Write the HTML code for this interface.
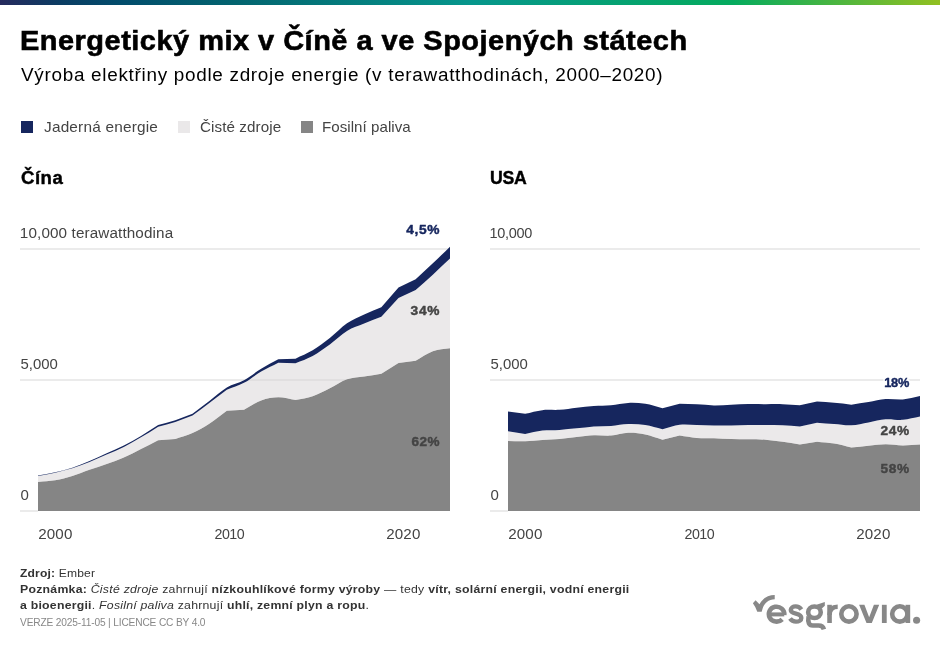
<!DOCTYPE html>
<html lang="cs">
<head>
<meta charset="utf-8">
<title>Energetický mix v Číně a ve Spojených státech</title>
<style>
  html, body { margin: 0; padding: 0; }
  body {
    width: 940px; height: 650px; overflow: hidden; position: relative;
    background: #ffffff; color: #000;
    font-family: "Liberation Sans", sans-serif;
    will-change: transform; /* forces greyscale text anti-aliasing */
  }
  .abs { position: absolute; white-space: nowrap; line-height: 1; margin: 0; transform-origin: 0 0; }
  .topbar {
    position: absolute; left: 0; top: 0; width: 940px; height: 5px;
    background: linear-gradient(90deg, #262a5d 0%, #0b3d63 6.5%, #024d6c 13%, #03646f 25%, #06968c 50%, #05ab5e 78%, #92c021 100%);
  }
  h1.title { top: 27.4px; font-size: 28px; font-weight: 700; color: #000; -webkit-text-stroke: 0.6px #000; }
  p.subtitle { top: 67.1px; font-size: 17.5px; font-weight: 400; color: #000; }
  .legend .sq { position: absolute; top: 121px; width: 12px; height: 12px; }
  .legend .lb { top: 119.3px; font-size: 15px; color: #444; }
  h2.ctitle { font-size: 18px; font-weight: 700; color: #000; top: 169.4px; -webkit-text-stroke: 0.4px #000; }
  .foot { font-size: 11.8px; color: #333; }
  .foot b { font-weight: 700; }
  .ver { font-size: 10.5px; color: #888; top: 617px; }
  svg.chart { position: absolute; left: 0; top: 0; }
  svg text { font-family: "Liberation Sans", sans-serif; }
  .ax { font-size: 15px; fill: #444; }
  .pct { font-size: 13px; font-weight: 700; stroke-linejoin: round; fill: #444; stroke: #444; stroke-width: 0.45px; }
  .pct.nv { fill: #16265e; stroke: #16265e; }
  .pct.halo { fill: #fff; stroke: #fff; stroke-width: 3.5px; }
</style>
</head>
<body>
  <div class="topbar"></div>

  <h1 class="abs title" style="left:20.37px;transform:scaleX(1.0340);letter-spacing:0.480px">Energetický mix v Číně a ve Spojených státech</h1>
  <p class="abs subtitle" style="left:20.60px;transform:scaleX(1.0805);letter-spacing:0.649px">Výroba elektřiny podle zdroje energie (v terawatthodinách, 2000–2020)</p>

  <div class="legend">
    <span class="sq" style="left:21px;background:#16265e"></span>
    <span class="abs lb" style="left:43.70px;transform:scaleX(1.0248);letter-spacing:0.192px">Jaderná energie</span>
    <span class="sq" style="left:178px;background:#eae8e9"></span>
    <span class="abs lb" style="left:200.10px;transform:scaleX(1.0123);letter-spacing:0.088px">Čisté zdroje</span>
    <span class="sq" style="left:301px;background:#858585"></span>
    <span class="abs lb" style="left:322.29px;transform:scaleX(1.0069);letter-spacing:0.046px">Fosilní paliva</span>
  </div>

  <h2 class="abs ctitle" style="left:20.50px;transform:scaleX(1.0339);letter-spacing:0.452px">Čína</h2>
  <h2 class="abs ctitle" style="left:489.82px;transform:scaleX(0.9822);letter-spacing:-0.329px">USA</h2>

  <svg class="chart" width="940" height="650" viewBox="0 0 940 650">
    <!-- China -->
    <g>
      <g fill="#ebebeb">
        <rect x="20" y="248" width="430" height="2"/>
        <rect x="20" y="379" width="430" height="2"/>
        <rect x="20" y="510" width="18" height="2"/>
      </g>
      <path fill="#858585" d="M38.00,481.92C43.72,481.39,49.44,481.33,55.17,480.35C60.89,479.36,66.61,477.77,72.33,476.02C78.06,474.28,83.78,471.85,89.50,469.87C95.22,467.88,100.94,466.15,106.67,464.10C112.39,462.05,118.11,460.06,123.83,457.55C129.56,455.05,135.28,451.95,141.00,449.06C146.72,446.18,152.44,443.19,158.17,440.26L175.33,438.95C181.06,436.99,186.78,435.61,192.50,433.06C198.22,430.50,203.94,427.33,209.67,423.62C215.39,419.92,221.11,415.10,226.83,410.84L244.00,409.71C249.72,406.62,255.44,402.51,261.17,400.44C266.89,398.37,272.61,397.36,278.33,397.29C284.06,397.23,289.78,399.13,295.50,400.04C301.22,398.77,306.94,398.17,312.67,396.22C318.39,394.27,324.11,391.17,329.83,388.36C335.56,385.55,341.28,381.31,347.00,379.35C352.72,377.38,358.44,377.53,364.17,376.59C369.89,375.66,375.61,374.67,381.33,373.71L398.50,363.00L415.67,360.74C421.39,357.57,427.11,353.32,432.83,351.23C438.56,349.15,444.28,349.24,450.00,348.25L450.00,511.00L38.00,511.00Z"/>
      <path fill="#d7d3d5" fill-opacity="0.5" d="M38.00,475.92C43.72,474.83,49.44,473.91,55.17,472.64C60.89,471.38,66.61,470.08,72.33,468.32C78.06,466.56,83.78,464.35,89.50,462.06C95.22,459.77,100.94,457.12,106.67,454.59C112.39,452.06,118.11,449.76,123.83,446.89C129.56,444.02,135.28,440.73,141.00,437.35C146.72,433.98,152.44,430.21,158.17,426.64C163.89,425.07,169.61,423.80,175.33,421.95C181.06,420.09,186.78,417.65,192.50,415.50C198.22,411.24,203.94,407.00,209.67,402.72C215.39,398.43,221.11,394.09,226.83,389.77C232.56,387.47,238.28,385.88,244.00,382.86C249.72,379.83,255.44,374.98,261.17,371.62C266.89,368.25,272.61,365.66,278.33,362.68L295.50,363.13C301.22,360.72,306.94,359.01,312.67,355.90C318.39,352.79,324.11,348.63,329.83,344.47C335.56,340.32,341.28,334.46,347.00,330.98C352.72,327.50,358.44,325.93,364.17,323.57C369.89,321.20,375.61,319.04,381.33,316.78L398.50,298.10L415.67,290.11C421.39,284.96,427.11,279.91,432.83,274.65C438.56,269.39,444.28,263.91,450.00,258.54L450.00,348.25C444.28,349.24,438.56,349.15,432.83,351.23C427.11,353.32,421.39,357.57,415.67,360.74L398.50,363.00L381.33,373.71C375.61,374.67,369.89,375.66,364.17,376.59C358.44,377.53,352.72,377.38,347.00,379.35C341.28,381.31,335.56,385.55,329.83,388.36C324.11,391.17,318.39,394.27,312.67,396.22C306.94,398.17,301.22,398.77,295.50,400.04C289.78,399.13,284.06,397.23,278.33,397.29C272.61,397.36,266.89,398.37,261.17,400.44C255.44,402.51,249.72,406.62,244.00,409.71L226.83,410.84C221.11,415.10,215.39,419.92,209.67,423.62C203.94,427.33,198.22,430.50,192.50,433.06C186.78,435.61,181.06,436.99,175.33,438.95L158.17,440.26C152.44,443.19,146.72,446.18,141.00,449.06C135.28,451.95,129.56,455.05,123.83,457.55C118.11,460.06,112.39,462.05,106.67,464.10C100.94,466.15,95.22,467.88,89.50,469.87C83.78,471.85,78.06,474.28,72.33,476.02C66.61,477.77,60.89,479.36,55.17,480.35C49.44,481.33,43.72,481.39,38.00,481.92Z"/>
      <path fill="#16265e" d="M38.00,475.47C43.72,474.38,49.44,473.50,55.17,472.20C60.89,470.90,66.61,469.54,72.33,467.67C78.06,465.79,83.78,463.33,89.50,460.93C95.22,458.53,100.94,455.85,106.67,453.28C112.39,450.71,118.11,448.40,123.83,445.50C129.56,442.60,135.28,439.33,141.00,435.91C146.72,432.50,152.44,428.64,158.17,425.01C163.89,423.40,169.61,422.06,175.33,420.16C181.06,418.27,186.78,415.83,192.50,413.67C198.22,409.37,203.94,405.13,209.67,400.78C215.39,396.42,221.11,390.93,226.83,387.52C232.56,384.11,238.28,383.45,244.00,380.31C249.72,377.17,255.44,372.20,261.17,368.68C266.89,365.16,272.61,362.36,278.33,359.20L295.50,358.65C301.22,355.87,306.94,353.76,312.67,350.32C318.39,346.87,324.11,342.49,329.83,337.98C335.56,333.46,341.28,327.18,347.00,323.25C352.72,319.33,358.44,317.10,364.17,314.42C369.89,311.74,375.61,309.60,381.33,307.19L398.50,287.41L415.67,279.16C421.39,273.86,427.11,268.66,432.83,263.25C438.56,257.85,444.28,252.23,450.00,246.72L450.00,258.54C444.28,263.91,438.56,269.39,432.83,274.65C427.11,279.91,421.39,284.96,415.67,290.11L398.50,298.10L381.33,316.78C375.61,319.04,369.89,321.20,364.17,323.57C358.44,325.93,352.72,327.50,347.00,330.98C341.28,334.46,335.56,340.32,329.83,344.47C324.11,348.63,318.39,352.79,312.67,355.90C306.94,359.01,301.22,360.72,295.50,363.13L278.33,362.68C272.61,365.66,266.89,368.25,261.17,371.62C255.44,374.98,249.72,379.83,244.00,382.86C238.28,385.88,232.56,387.47,226.83,389.77C221.11,394.09,215.39,398.43,209.67,402.72C203.94,407.00,198.22,411.24,192.50,415.50C186.78,417.65,181.06,420.09,175.33,421.95C169.61,423.80,163.89,425.07,158.17,426.64C152.44,430.21,146.72,433.98,141.00,437.35C135.28,440.73,129.56,444.02,123.83,446.89C118.11,449.76,112.39,452.06,106.67,454.59C100.94,457.12,95.22,459.77,89.50,462.06C83.78,464.35,78.06,466.56,72.33,468.32C66.61,470.08,60.89,471.38,55.17,472.64C49.44,473.91,43.72,474.83,38.00,475.92Z"/>
      <text class="ax" transform="translate(19.83,238) scale(1.0169,1)" letter-spacing="0.125" >10,000 terawatthodina</text>
      <text class="ax" transform="translate(20.60,369) scale(0.9960,1)" letter-spacing="-0.037" >5,000</text>
      <text class="ax" transform="translate(20.60,500) scale(1.0000,1)" letter-spacing="0.000" >0</text>
      <text class="ax" transform="translate(38.25,539) scale(1.0109,1)" letter-spacing="0.120" >2000</text>
      <text class="ax" transform="translate(214.50,539) scale(0.9499,1)" letter-spacing="-0.552" >2010</text>
      <text class="ax" transform="translate(386.30,539) scale(1.0101,1)" letter-spacing="0.112" >2020</text>
      <text class="pct halo" transform="translate(406.20,234.2) scale(1.0602,1)" letter-spacing="0.603" >4,5%</text><text class="pct nv" transform="translate(406.20,234.2) scale(1.0602,1)" letter-spacing="0.603" >4,5%</text>
      <text class="pct" transform="translate(410.50,315.2) scale(1.0559,1)" letter-spacing="0.739" >34%</text>
      <text class="pct" transform="translate(411.40,446.3) scale(1.0397,1)" letter-spacing="0.525" >62%</text>
    </g>
    <!-- USA -->
    <g>
      <g fill="#ebebeb">
        <rect x="490" y="248" width="430" height="2"/>
        <rect x="490" y="379" width="430" height="2"/>
        <rect x="490" y="510" width="18" height="2"/>
      </g>
      <path fill="#858585" d="M508.00,441.05C513.72,441.13,519.44,441.49,525.17,441.31C530.89,441.12,536.61,440.33,542.33,439.95C548.06,439.56,553.78,439.47,559.50,439.00C565.22,438.53,570.94,437.74,576.67,437.12C582.39,436.49,588.11,435.49,593.83,435.23C599.56,434.97,605.28,435.95,611.00,435.54C616.72,435.14,622.44,432.98,628.17,432.79C633.89,432.61,639.61,433.30,645.33,434.44C651.06,435.59,656.78,437.94,662.50,439.68L679.67,435.54C685.39,436.34,691.11,437.47,696.83,437.93C702.56,438.39,708.28,438.11,714.00,438.30C719.72,438.48,725.44,438.88,731.17,439.05C736.89,439.23,742.61,439.23,748.33,439.34C754.06,439.46,759.78,439.32,765.50,439.74C771.22,440.15,776.94,441.02,782.67,441.83C788.39,442.64,794.11,443.67,799.83,444.58L817.00,441.70C822.72,442.29,828.44,442.50,834.17,443.46C839.89,444.42,845.61,446.13,851.33,447.46C857.06,446.85,862.78,446.15,868.50,445.63C874.22,445.11,879.94,444.36,885.67,444.32C891.39,444.29,897.11,445.40,902.83,445.42C908.56,445.44,914.28,444.78,920.00,444.45L920.00,511.00L508.00,511.00Z"/>
      <path fill="#d7d3d5" fill-opacity="0.5" d="M508.00,431.14L525.17,433.89C530.89,432.78,536.61,431.23,542.33,430.57C548.06,429.90,553.78,430.26,559.50,429.88C565.22,429.51,570.94,428.89,576.67,428.31C582.39,427.74,588.11,426.83,593.83,426.43C599.56,426.02,605.28,426.30,611.00,425.90C616.72,425.51,622.44,424.20,628.17,424.04C633.89,423.88,639.61,424.10,645.33,424.96C651.06,425.82,656.78,427.77,662.50,429.18C668.22,427.74,673.94,425.54,679.67,424.85C685.39,424.17,691.11,424.95,696.83,425.06C702.56,425.18,708.28,425.49,714.00,425.56C719.72,425.63,725.44,425.58,731.17,425.48C736.89,425.39,742.61,425.06,748.33,424.99C754.06,424.91,759.78,424.99,765.50,425.04C771.22,425.09,776.94,425.07,782.67,425.30C788.39,425.53,794.11,426.03,799.83,426.40L817.00,422.68C822.72,423.13,828.44,423.60,834.17,424.04C839.89,424.48,845.61,425.60,851.33,425.33C857.06,425.05,862.78,423.41,868.50,422.39C874.22,421.37,879.94,419.65,885.67,419.22C891.39,418.79,897.11,420.26,902.83,419.82C908.56,419.39,914.28,417.68,920.00,416.60L920.00,444.45C914.28,444.78,908.56,445.44,902.83,445.42C897.11,445.40,891.39,444.29,885.67,444.32C879.94,444.36,874.22,445.11,868.50,445.63C862.78,446.15,857.06,446.85,851.33,447.46C845.61,446.13,839.89,444.42,834.17,443.46C828.44,442.50,822.72,442.29,817.00,441.70L799.83,444.58C794.11,443.67,788.39,442.64,782.67,441.83C776.94,441.02,771.22,440.15,765.50,439.74C759.78,439.32,754.06,439.46,748.33,439.34C742.61,439.23,736.89,439.23,731.17,439.05C725.44,438.88,719.72,438.48,714.00,438.30C708.28,438.11,702.56,438.39,696.83,437.93C691.11,437.47,685.39,436.34,679.67,435.54L662.50,439.68C656.78,437.94,651.06,435.59,645.33,434.44C639.61,433.30,633.89,432.61,628.17,432.79C622.44,432.98,616.72,435.14,611.00,435.54C605.28,435.95,599.56,434.97,593.83,435.23C588.11,435.49,582.39,436.49,576.67,437.12C570.94,437.74,565.22,438.53,559.50,439.00C553.78,439.47,548.06,439.56,542.33,439.95C536.61,440.33,530.89,441.12,525.17,441.31C519.44,441.49,513.72,441.13,508.00,441.05Z"/>
      <path fill="#16265e" d="M508.00,411.39L525.17,413.75C530.89,412.54,536.61,410.78,542.33,410.13C548.06,409.48,553.78,410.28,559.50,409.87C565.22,409.45,570.94,408.30,576.67,407.64C582.39,406.99,588.11,406.33,593.83,405.94C599.56,405.55,605.28,405.79,611.00,405.28C616.72,404.78,622.44,403.17,628.17,402.93C633.89,402.68,639.61,402.96,645.33,403.84C651.06,404.73,656.78,406.78,662.50,408.24L679.67,403.71C685.39,403.93,691.11,404.08,696.83,404.37C702.56,404.65,708.28,405.34,714.00,405.41C719.72,405.49,725.44,405.03,731.17,404.81C736.89,404.59,742.61,404.21,748.33,404.10C754.06,403.99,759.78,404.14,765.50,404.16C771.22,404.17,776.94,403.99,782.67,404.18C788.39,404.37,794.11,404.93,799.83,405.31L817.00,401.54C822.72,401.97,828.44,402.33,834.17,402.85C839.89,403.36,845.61,404.03,851.33,404.63C857.06,403.75,862.78,402.95,868.50,402.01C874.22,401.07,879.94,399.41,885.67,399.00C891.39,398.58,897.11,400.00,902.83,399.52C908.56,399.04,914.28,397.25,920.00,396.11L920.00,416.60C914.28,417.68,908.56,419.39,902.83,419.82C897.11,420.26,891.39,418.79,885.67,419.22C879.94,419.65,874.22,421.37,868.50,422.39C862.78,423.41,857.06,425.05,851.33,425.33C845.61,425.60,839.89,424.48,834.17,424.04C828.44,423.60,822.72,423.13,817.00,422.68L799.83,426.40C794.11,426.03,788.39,425.53,782.67,425.30C776.94,425.07,771.22,425.09,765.50,425.04C759.78,424.99,754.06,424.91,748.33,424.99C742.61,425.06,736.89,425.39,731.17,425.48C725.44,425.58,719.72,425.63,714.00,425.56C708.28,425.49,702.56,425.18,696.83,425.06C691.11,424.95,685.39,424.17,679.67,424.85C673.94,425.54,668.22,427.74,662.50,429.18C656.78,427.77,651.06,425.82,645.33,424.96C639.61,424.10,633.89,423.88,628.17,424.04C622.44,424.20,616.72,425.51,611.00,425.90C605.28,426.30,599.56,426.02,593.83,426.43C588.11,426.83,582.39,427.74,576.67,428.31C570.94,428.89,565.22,429.51,559.50,429.88C553.78,430.26,548.06,429.90,542.33,430.57C536.61,431.23,530.89,432.78,525.17,433.89L508.00,431.14Z"/>
      <text class="ax" transform="translate(489.43,238) scale(0.9665,1)" letter-spacing="-0.299" >10,000</text>
      <text class="ax" transform="translate(490.60,369) scale(0.9960,1)" letter-spacing="-0.037" >5,000</text>
      <text class="ax" transform="translate(490.60,500) scale(1.0000,1)" letter-spacing="0.000" >0</text>
      <text class="ax" transform="translate(508.25,539) scale(1.0109,1)" letter-spacing="0.120" >2000</text>
      <text class="ax" transform="translate(684.50,539) scale(0.9499,1)" letter-spacing="-0.552" >2010</text>
      <text class="ax" transform="translate(856.30,539) scale(1.0101,1)" letter-spacing="0.112" >2020</text>
      <text class="pct halo" transform="translate(884.20,387.3) scale(0.9817,1)" letter-spacing="-0.242" >18%</text><text class="pct nv" transform="translate(884.20,387.3) scale(0.9817,1)" letter-spacing="-0.242" >18%</text>
      <text class="pct" transform="translate(880.50,435.3) scale(1.0505,1)" letter-spacing="0.668" >24%</text>
      <text class="pct" transform="translate(880.50,473.1) scale(1.0505,1)" letter-spacing="0.668" >58%</text>
    </g>
  </svg>

  <div class="abs foot" style="top:567.8px;left:20.10px;transform:scaleX(1.0248);letter-spacing:0.161px"><b>Zdroj:</b> Ember</div>
  <div class="abs foot" style="top:583.8px;left:20.20px;transform:scaleX(1.0419);letter-spacing:0.233px"><b>Poznámka:</b> <i>Čisté zdroje</i> zahrnují <b>nízkouhlíkové formy výroby</b> — tedy <b>vítr, solární energii, vodní energii</b></div>
  <div class="abs foot" style="top:599.6px;left:20.20px;transform:scaleX(1.0421);letter-spacing:0.221px"><b>a bioenergii</b>. <i>Fosilní paliva</i> zahrnují <b>uhlí, zemní plyn a ropu</b>.</div>
  <div class="abs ver" style="left:20.20px;transform:scaleX(0.9697);letter-spacing:-0.171px">VERZE 2025-11-05 | LICENCE CC BY 4.0</div>

  <svg class="abs" style="left:745px;top:585px" width="185" height="55" viewBox="745 585 185 55">
    <g fill="none" stroke="#888888" stroke-width="4.6" stroke-linecap="butt" stroke-linejoin="miter">
      <!-- e -->
      <path stroke-width="4.0" d="M769.0,614.4 H784.3"/>
      <path d="M784.3,614.9 A7.75,7.45 0 1 0 782.2,619.3"/>
      <!-- s -->
      <path stroke-width="4.4" d="M801.4,609.4 C800.0,607.4 797.9,606.4 795.7,606.4 C792.8,606.4 790.8,607.9 790.8,610.0 C790.8,615.0 801.3,612.4 801.3,617.9 C801.3,620.2 799.0,621.6 796.0,621.6 C793.5,621.6 791.4,620.6 790.0,618.6"/>
      <!-- g -->
      <ellipse cx="814.45" cy="612.2" rx="6.3" ry="5.75"/>
      <path d="M808.6,616.5 C807.6,622.5 809.0,625.5 812.8,625.5 L818.6,625.5 C821.6,625.5 823.2,626.8 823.9,629.3"/>
      <!-- r -->
      <path d="M829.55,623 V604.8"/>
      <path d="M829.55,615 C829.55,609.6 832.6,606.8 837.7,606.8"/>
      <!-- o -->
      <circle cx="848.95" cy="613.95" r="7.65"/>
      <!-- a -->
      <circle cx="899.8" cy="613.95" r="7.65"/>
      <path stroke-width="4.7" d="M907.85,604.8 V623"/>
    </g>
    <g fill="#888888">
      <!-- check mark -->
      <path d="M752.88,603.34 L755.59,600.13 L759.48,604.36 C762.55,597.98 769.12,595.04 774.72,595.12 L774.72,599.28 C768.33,599.6 763.75,602.69 761.68,611.64 L757.28,611.64 Q755.6,607.0 752.88,603.34 Z"/>
      <!-- g ear -->
      <path d="M817.2,604.6 L824.84,601.95 L824.84,605.75 L821.8,608.6 L818,607.5 Z"/>
      <!-- v, dotless i, full stop -->
      <path d="M859.1,604.8 L864.4,604.8 L869.15,617.3 L873.9,604.8 L879.2,604.8 L871.8,623 L866.5,623 Z"/>
      <rect x="881.9" y="604.8" width="4.8" height="18.2"/>
      <circle cx="916.6" cy="620.2" r="3.55"/>
    </g>
  </svg>
</body>
</html>
